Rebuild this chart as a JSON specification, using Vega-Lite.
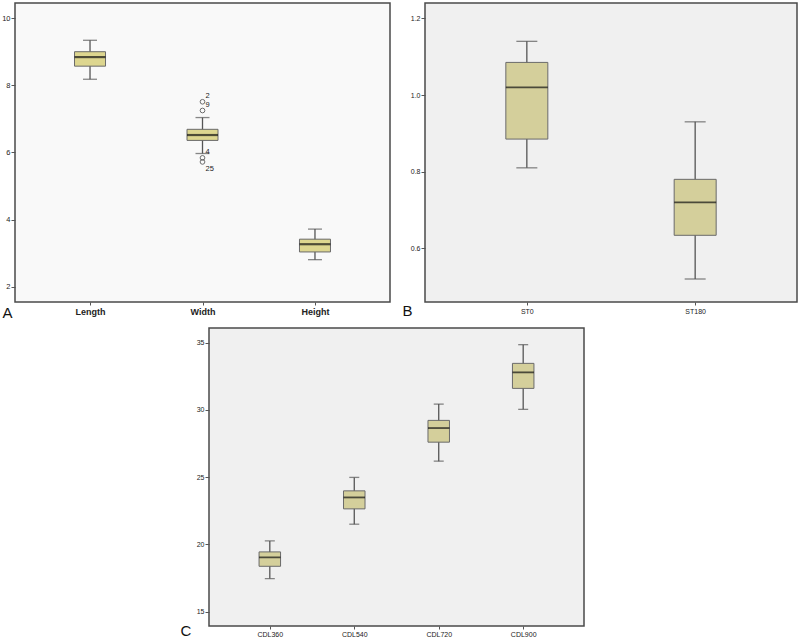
{
  "$schema": "https://vega.github.io/schema/vega-lite/v6.json",
  "padding": {"left": 0, "top": 2, "right": 0, "bottom": 0},
  "background": "white",
  "config": {
    "font": "Liberation Sans",
    "axis": {"domain": false, "grid": false, "tickColor": "#555", "labelColor": "#222", "labelFont": "Liberation Sans", "titleFont": "Liberation Sans", "titleFontWeight": "normal", "titleColor": "#111"}
  },
  "datasets": {
    "a": [
      {"cat": "Length", "min": 8.18, "q1": 8.57, "median": 8.84, "q3": 9.0, "max": 9.34},
      {"cat": "Width", "min": 5.97, "q1": 6.36, "median": 6.52, "q3": 6.69, "max": 7.04},
      {"cat": "Height", "min": 2.81, "q1": 3.04, "median": 3.27, "q3": 3.42, "max": 3.72}
    ],
    "aout": [
      {"cat": "Width", "value": 7.51, "label": "2"},
      {"cat": "Width", "value": 7.25, "label": "9"},
      {"cat": "Width", "value": 5.84, "label": "4"},
      {"cat": "Width", "value": 5.72, "label": "25"}
    ],
    "b": [
      {"cat": "ST0", "min": 0.81, "q1": 0.885, "median": 1.02, "q3": 1.085, "max": 1.14},
      {"cat": "ST180", "min": 0.52, "q1": 0.634, "median": 0.72, "q3": 0.78, "max": 0.93}
    ],
    "c": [
      {"cat": "CDL360", "min": 17.46, "q1": 18.37, "median": 19.04, "q3": 19.44, "max": 20.26},
      {"cat": "CDL540", "min": 21.5, "q1": 22.64, "median": 23.49, "q3": 23.98, "max": 24.98},
      {"cat": "CDL720", "min": 26.19, "q1": 27.6, "median": 28.65, "q3": 29.22, "max": 30.43},
      {"cat": "CDL900", "min": 30.04, "q1": 31.6, "median": 32.79, "q3": 33.46, "max": 34.85}
    ]
  },
  "spacing": 6,
  "bounds": "full",
  "vconcat": [
    {
      "spacing": 35,
      "bounds": "flush",
      "hconcat": [
        {
          "width": 375,
          "height": 299,
          "view": {"fill": "#f9f9f9", "stroke": "#4a4a4a", "strokeWidth": 1.5},
          "data": {"name": "a"},
          "encoding": {
            "x": {"field": "cat", "type": "nominal", "sort": null, "scale": {"type": "point", "padding": 0.667},
              "axis": {"title": null, "labelAngle": 0, "labelFontSize": 9, "labelFontWeight": "bold", "tickSize": 3, "labelPadding": 2}}
          },
          "layer": [
            {
              "mark": {"type": "rule", "color": "#555", "strokeWidth": 1.3},
              "encoding": {
                "y": {"field": "min", "type": "quantitative", "scale": {"domain": [1.55, 10.45], "nice": false, "zero": false},
                  "axis": {"values": [2, 4, 6, 8, 10], "labelFontSize": 7.5, "tickSize": 4, "labelPadding": 1,
                    "title": "A", "titleAngle": 0, "titleX": -13, "titleY": 314, "titleAlign": "left", "titleBaseline": "alphabetic", "titleFontSize": 15}},
                "y2": {"field": "max"}
              }
            },
            {"mark": {"type": "tick", "color": "#555", "size": 14, "thickness": 1.3}, "encoding": {"y": {"field": "min", "type": "quantitative"}}},
            {"mark": {"type": "tick", "color": "#555", "size": 14, "thickness": 1.3}, "encoding": {"y": {"field": "max", "type": "quantitative"}}},
            {"mark": {"type": "bar", "width": 31, "fill": "#ddd68f", "stroke": "#6a6a6a", "strokeWidth": 1}, "encoding": {"y": {"field": "q1", "type": "quantitative"}, "y2": {"field": "q3"}}},
            {"mark": {"type": "tick", "color": "#111", "size": 31, "thickness": 2.2}, "encoding": {"y": {"field": "median", "type": "quantitative"}}},
            {
              "data": {"name": "aout"},
              "mark": {"type": "point", "shape": "circle", "filled": false, "color": "#333", "size": 22, "strokeWidth": 1},
              "encoding": {"y": {"field": "value", "type": "quantitative"}}
            },
            {
              "data": {"name": "aout"},
              "transform": [{"filter": "datum.label != '25'"}],
              "mark": {"type": "text", "align": "left", "dx": 3, "dy": -5.5, "fontSize": 7.5, "color": "#222", "font": "Liberation Sans"},
              "encoding": {"y": {"field": "value", "type": "quantitative"}, "text": {"field": "label"}}
            },
            {
              "data": {"name": "aout"},
              "transform": [{"filter": "datum.label == '25'"}],
              "mark": {"type": "text", "align": "left", "dx": 3, "dy": 7, "fontSize": 7.5, "color": "#222", "font": "Liberation Sans"},
              "encoding": {"y": {"field": "value", "type": "quantitative"}, "text": {"field": "label"}}
            }
          ]
        },
        {
          "width": 372,
          "height": 299,
          "view": {"fill": "#f0f0f0", "stroke": "#4a4a4a", "strokeWidth": 1.5},
          "data": {"name": "b"},
          "encoding": {
            "x": {"field": "cat", "type": "nominal", "sort": null, "scale": {"type": "point", "padding": 0.605},
              "axis": {"title": null, "labelAngle": 0, "labelFontSize": 7, "tickSize": 3, "labelPadding": 2}}
          },
          "layer": [
            {
              "mark": {"type": "rule", "color": "#555", "strokeWidth": 1.3},
              "encoding": {
                "y": {"field": "min", "type": "quantitative", "scale": {"domain": [0.46, 1.24], "nice": false, "zero": false},
                  "axis": {"values": [0.6, 0.8, 1.0, 1.2], "format": ".1f", "labelFontSize": 7, "tickSize": 4, "labelPadding": 1,
                    "title": "B", "titleAngle": 0, "titleX": -23, "titleY": 312, "titleAlign": "left", "titleBaseline": "alphabetic", "titleFontSize": 15}},
                "y2": {"field": "max"}
              }
            },
            {"mark": {"type": "tick", "color": "#555", "size": 21, "thickness": 1.3}, "encoding": {"y": {"field": "min", "type": "quantitative"}}},
            {"mark": {"type": "tick", "color": "#555", "size": 21, "thickness": 1.3}, "encoding": {"y": {"field": "max", "type": "quantitative"}}},
            {"mark": {"type": "bar", "width": 42, "fill": "#d4cf9b", "stroke": "#6a6a6a", "strokeWidth": 1}, "encoding": {"y": {"field": "q1", "type": "quantitative"}, "y2": {"field": "q3"}}},
            {"mark": {"type": "tick", "color": "#111", "size": 42, "thickness": 1.8}, "encoding": {"y": {"field": "median", "type": "quantitative"}}}
          ]
        }
      ]
    },
    {
      "spacing": 0,
      "bounds": "flush",
      "hconcat": [
        {
          "width": 194,
          "height": 298,
          "view": {"stroke": null, "fill": null},
          "data": {"values": []},
          "mark": "point"
        },
        {
          "width": 375,
          "height": 298,
          "view": {"fill": "#f0f0f0", "stroke": "#4a4a4a", "strokeWidth": 1.5},
          "data": {"name": "c"},
          "encoding": {
            "x": {"field": "cat", "type": "nominal", "sort": null, "scale": {"type": "point", "padding": 0.72},
              "axis": {"title": null, "labelAngle": 0, "labelFontSize": 7, "tickSize": 3, "labelPadding": 1}}
          },
          "layer": [
            {
              "mark": {"type": "rule", "color": "#555", "strokeWidth": 1.3},
              "encoding": {
                "y": {"field": "min", "type": "quantitative", "scale": {"domain": [13.93, 36.09], "nice": false, "zero": false},
                  "axis": {"values": [15, 20, 25, 30, 35], "labelFontSize": 7, "tickSize": 4, "labelPadding": 1,
                    "title": "C", "titleAngle": 0, "titleX": -29, "titleY": 307, "titleAlign": "left", "titleBaseline": "alphabetic", "titleFontSize": 15}},
                "y2": {"field": "max"}
              }
            },
            {"mark": {"type": "tick", "color": "#555", "size": 10, "thickness": 1.3}, "encoding": {"y": {"field": "min", "type": "quantitative"}}},
            {"mark": {"type": "tick", "color": "#555", "size": 10, "thickness": 1.3}, "encoding": {"y": {"field": "max", "type": "quantitative"}}},
            {"mark": {"type": "bar", "width": 21.5, "fill": "#d4cf9b", "stroke": "#6a6a6a", "strokeWidth": 1}, "encoding": {"y": {"field": "q1", "type": "quantitative"}, "y2": {"field": "q3"}}},
            {"mark": {"type": "tick", "color": "#111", "size": 21.5, "thickness": 1.8}, "encoding": {"y": {"field": "median", "type": "quantitative"}}}
          ]
        }
      ]
    }
  ]
}
